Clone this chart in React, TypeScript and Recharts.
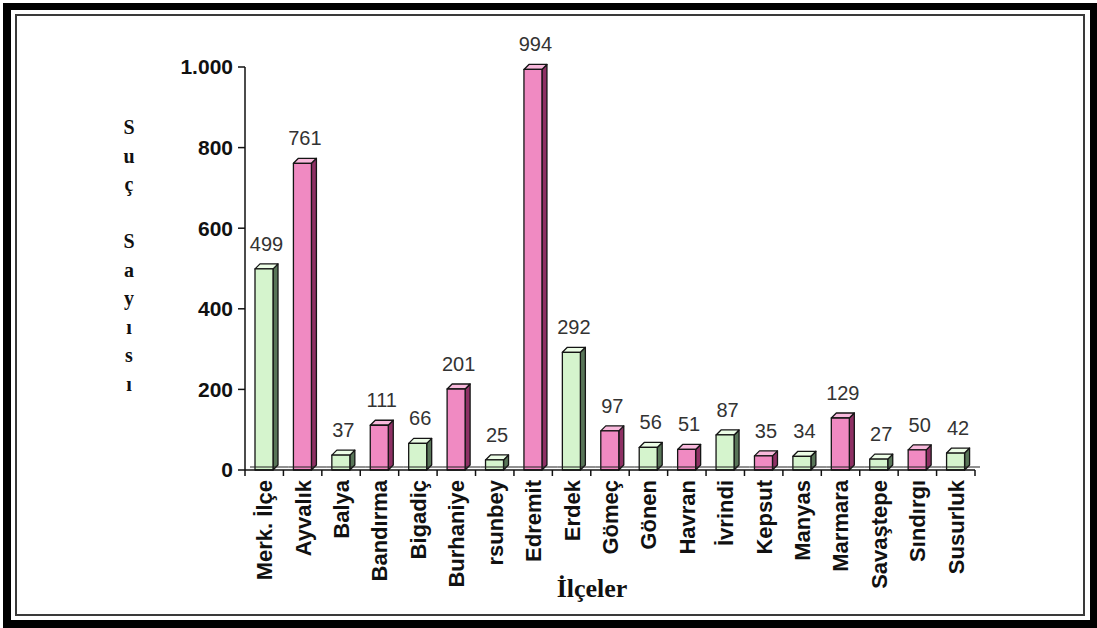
import React from 'react';
import { BarChart, Bar, XAxis, YAxis, LabelList } from 'recharts';

const districts = [
  'Merk. İlçe', 'Ayvalık', 'Balya', 'Bandırma', 'Bigadiç', 'Burhaniye', 'rsunbey',
  'Edremit', 'Erdek', 'Gömeç', 'Gönen', 'Havran', 'İvrindi', 'Kepsut', 'Manyas',
  'Marmara', 'Savaştepe', 'Sındırgı', 'Susurluk',
];
const crimeCounts = [499, 761, 37, 111, 66, 201, 25, 994, 292, 97, 56, 51, 87, 35, 34, 129, 27, 50, 42];
const yTicks = [0, 200, 400, 600, 800, 1000];
const yAxisTitle = ['S', 'u', 'ç', '', 'S', 'a', 'y', 'ı', 's', 'ı'];
const xAxisTitle = 'İlçeler';

const data = districts.map((name, i) => ({ name, count: crimeCounts[i] }));

const W = 1097;
const H = 628;
const PLOT_LEFT = 245;
const PLOT_RIGHT = 975;
const PLOT_TOP = 67;
const PLOT_BOTTOM = 470;
const Y_AXIS_W = 90;
const X_AXIS_H = 140;
const DEPTH = 5;
const HALF_BAND = (PLOT_RIGHT - PLOT_LEFT) / districts.length / 2;

const sans = '"Liberation Sans", Arial, sans-serif';
const serif = '"Liberation Serif", "Times New Roman", serif';

// green / pink alternate, like the original excel chart
const palette = [
  { front: '#d5f4cd', side: '#587558', top: '#ecfde6' },
  { front: '#f08ac2', side: '#8e3064', top: '#f8b9dc' },
];

function Bar3D(props: any) {
  const { x, y, width, height, index } = props;
  const c = palette[(index ?? 0) % 2];
  const d = DEPTH;
  return (
    <g stroke="#151515" strokeWidth={1.3} strokeLinejoin="round">
      <polygon
        points={`${x + width},${y} ${x + width + d},${y - d} ${x + width + d},${y + height - d} ${x + width},${y + height}`}
        fill={c.side}
      />
      <polygon points={`${x},${y} ${x + d},${y - d} ${x + width + d},${y - d} ${x + width},${y}`} fill={c.top} />
      <rect x={x} y={y} width={width} height={height} fill={c.front} />
    </g>
  );
}

function ValueLabel(props: any) {
  const { x, y, width, value } = props;
  return (
    <text x={x + width / 2 + DEPTH / 2} y={y - 18} textAnchor="middle" fontSize={20} fill="#333" fontFamily={sans}>
      {value}
    </text>
  );
}

function DistrictTick(props: any) {
  const { x, y, payload, index } = props;
  return (
    <g>
      {/* back edge of the floor */}
      <line x1={x - HALF_BAND + DEPTH} y1={y - 3} x2={x + HALF_BAND + DEPTH} y2={y - 3} stroke="#222" strokeWidth={1} />
      {index === 0 && <line x1={x - HALF_BAND} y1={y} x2={x - HALF_BAND} y2={y + 6} stroke="#111" strokeWidth={1.5} />}
      <line x1={x + HALF_BAND} y1={y} x2={x + HALF_BAND} y2={y + 6} stroke="#111" strokeWidth={1.5} />
      <text
        transform={`translate(${x},${y + 10}) rotate(-90)`}
        textAnchor="end"
        dy="0.36em"
        fontSize={22}
        fontWeight="bold"
        fontFamily={sans}
        fill="#111"
      >
        {payload.value}
      </text>
    </g>
  );
}

const fmtThousands = (v: number) =>
  v >= 1000 ? `${Math.floor(v / 1000)}.${String(v % 1000).padStart(3, '0')}` : String(v);

export default function App() {
  return (
    <div style={{ position: 'absolute', left: 0, top: 0, width: W, height: H, background: '#fff', overflow: 'hidden' }}>
      {/* frame */}
      <div
        style={{
          position: 'absolute', left: 3, top: 3, width: W - 3, height: H - 3, boxSizing: 'border-box',
          borderStyle: 'solid', borderColor: '#000', borderWidth: '7px 7px 8px 8px',
        }}
      />
      <div
        style={{
          position: 'absolute', left: 15, top: 14, width: 1085 - 15, height: 616 - 14, boxSizing: 'border-box',
          border: '2px solid #3a3a3a',
        }}
      />

      <div style={{ position: 'absolute', left: 0, top: 0 }}>
        <BarChart
          width={W}
          height={H}
          data={data}
          barSize={18}
          margin={{ top: PLOT_TOP, right: W - PLOT_RIGHT, bottom: H - PLOT_BOTTOM - X_AXIS_H, left: PLOT_LEFT - Y_AXIS_W }}
        >
          <XAxis
            dataKey="name"
            height={X_AXIS_H}
            interval={0}
            tickSize={0}
            tickMargin={0}
            tickLine={false}
            axisLine={{ stroke: '#111', strokeWidth: 1.5 }}
            tick={<DistrictTick />}
          />
          <YAxis
            width={Y_AXIS_W}
            domain={[0, 1000]}
            ticks={yTicks}
            tickFormatter={fmtThousands}
            tickSize={7}
            tickMargin={5}
            axisLine={{ stroke: '#111', strokeWidth: 1.5 }}
            tickLine={{ stroke: '#111', strokeWidth: 1.5 }}
            tick={{ fontSize: 21, fontWeight: 'bold', fontFamily: sans, fill: '#111' }}
          />
          <Bar dataKey="count" shape={<Bar3D />} isAnimationActive={false}>
            <LabelList dataKey="count" content={<ValueLabel />} />
          </Bar>
        </BarChart>
      </div>

      {/* vertical y axis title */}
      <div
        style={{
          position: 'absolute', left: 116, top: 113, width: 26, textAlign: 'center',
          fontFamily: serif, fontWeight: 'bold', fontSize: 20, lineHeight: '28.5px', color: '#111',
        }}
      >
        {yAxisTitle.map((ch, i) => (
          <div key={i}>{ch || '\u00a0'}</div>
        ))}
      </div>

      <div
        style={{
          position: 'absolute', left: 537, top: 574, width: 110, textAlign: 'center',
          fontFamily: serif, fontWeight: 'bold', fontSize: 26, color: '#111',
        }}
      >
        {xAxisTitle}
      </div>
    </div>
  );
}
